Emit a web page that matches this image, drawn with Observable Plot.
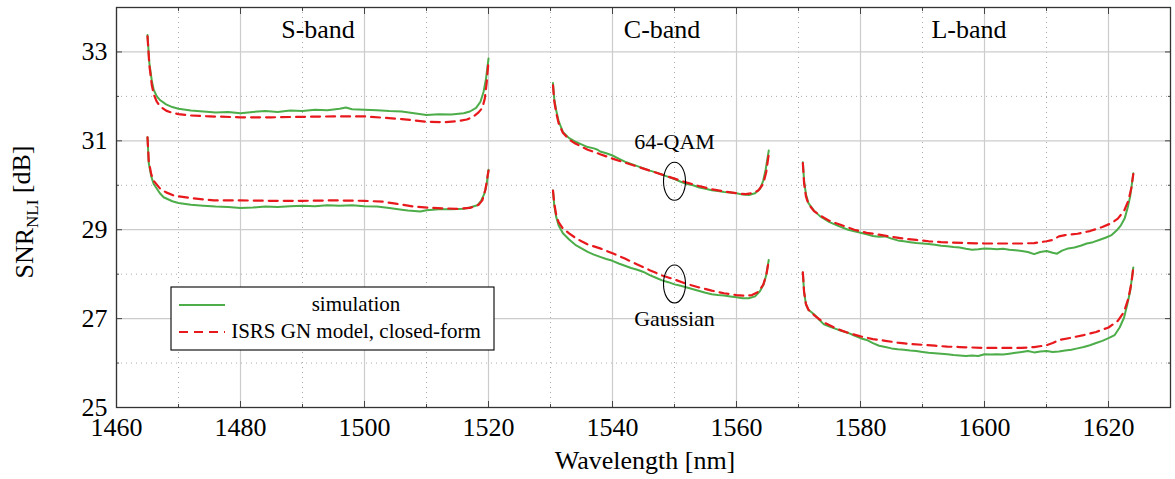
<!DOCTYPE html>
<html><head><meta charset="utf-8">
<script src="https://cdn.jsdelivr.net/npm/d3@7"></script>
<script src="https://cdn.jsdelivr.net/npm/@observablehq/plot@0.6"></script>
<style>
body{margin:0;background:#fff;}
#chart{position:relative;width:1175px;height:479px;}
#chart svg, #chart svg text{font-family:"Liberation Serif","Times New Roman",serif !important;}
</style></head><body><div id="chart"></div>
<script>
// ---- tick values & labels ----
const xMajorTicks = [1460,1480,1500,1520,1540,1560,1580,1600,1620];
const xMinorTicks = [1470,1490,1510,1530,1550,1570,1590,1610];
const yMajorTicks = [25,27,29,31,33];
const yMinorTicks = [26,28,30,32];
const bandNames = ["S-band","C-band","L-band"];
const bandCenters = [1492.5,1548,1597.5];
const bandLabelY = 33.5;
const formatNames = ["64-QAM","Gaussian"];
const formatLabelY = [30.98, 26.99];
const formatLabelX = 1550;
const ellipseY = [30.09, 27.78];
const legendLabels = ["simulation","ISRS GN model, closed-form"];

// ---- series: [wavelength nm, SNR_NLI dB] ----
const sQamSim = [[1465,33.38],[1465.3,32.75],[1465.7,32.35],[1466,32.15],[1466.5,32.0],[1467,31.92],[1468,31.82],[1469,31.76],[1470,31.72],[1472,31.68],[1474,31.66],[1476,31.64],[1478,31.65],[1480,31.62],[1482,31.65],[1484,31.67],[1486,31.65],[1488,31.68],[1490,31.67],[1492,31.7],[1494,31.69],[1496,31.72],[1497,31.75],[1498,31.71],[1500,31.7],[1502,31.69],[1504,31.67],[1506,31.66],[1508,31.62],[1510,31.58],[1512,31.6],[1514,31.59],[1516,31.62],[1517,31.66],[1518,31.74],[1518.7,31.88],[1519.2,32.1],[1519.6,32.4],[1520,32.85]];
const sQamModel = [[1465,33.35],[1465.3,32.7],[1465.7,32.25],[1466,32.05],[1466.5,31.88],[1467,31.78],[1468,31.68],[1469,31.63],[1470,31.6],[1472,31.57],[1475,31.55],[1480,31.53],[1485,31.53],[1490,31.54],[1495,31.55],[1500,31.55],[1503,31.52],[1506,31.49],[1508,31.46],[1510,31.43],[1513,31.42],[1515,31.44],[1516.5,31.48],[1517.5,31.54],[1518.4,31.64],[1519,31.74],[1519.4,31.95],[1519.7,32.3],[1520,32.8]];
const sGaussSim = [[1465,31.08],[1465.2,30.5],[1465.6,30.2],[1466,30.03],[1467,29.82],[1467.6,29.73],[1469,29.64],[1470,29.6],[1472,29.56],[1474,29.54],[1476,29.52],[1478,29.51],[1480,29.49],[1482,29.5],[1484,29.52],[1486,29.51],[1488,29.53],[1490,29.54],[1492,29.53],[1494,29.55],[1496,29.54],[1498,29.55],[1500,29.53],[1502,29.52],[1504,29.49],[1506,29.45],[1507,29.43],[1509,29.41],[1510,29.44],[1512,29.46],[1514,29.46],[1516,29.47],[1517,29.5],[1518.2,29.55],[1518.8,29.65],[1519.3,29.8],[1519.7,30.02],[1520,30.35]];
const sGaussModel = [[1465,31.08],[1465.2,30.55],[1465.6,30.25],[1466,30.1],[1467,29.93],[1468,29.84],[1469.2,29.77],[1472,29.71],[1475.7,29.66],[1480,29.66],[1485,29.65],[1490,29.65],[1495,29.66],[1500,29.65],[1503,29.63],[1505.3,29.58],[1508,29.52],[1511,29.49],[1513,29.48],[1515,29.47],[1517,29.49],[1518.4,29.56],[1519,29.66],[1519.5,29.9],[1520,30.33]];
const cQamSim = [[1530.4,32.3],[1530.6,31.95],[1530.9,31.7],[1531.3,31.45],[1532,31.2],[1533,31.06],[1534,30.98],[1535,30.92],[1536,30.86],[1537,30.83],[1537.6,30.8],[1538,30.76],[1539,30.72],[1540,30.67],[1541,30.6],[1542,30.53],[1543,30.48],[1544,30.43],[1545,30.38],[1546,30.33],[1547,30.29],[1548,30.24],[1549,30.19],[1550,30.14],[1551,30.08],[1552,30.03],[1553,30.0],[1554,29.95],[1555,29.92],[1556,29.89],[1557,29.87],[1558,29.85],[1559,29.84],[1560,29.82],[1561,29.79],[1562,29.78],[1563,29.82],[1563.8,29.92],[1564.3,30.1],[1564.7,30.35],[1565.2,30.78]];
const cQamModel = [[1530.4,32.25],[1530.6,31.9],[1530.9,31.65],[1531.3,31.4],[1532,31.18],[1533,31.03],[1534,30.94],[1535,30.87],[1536,30.8],[1538,30.7],[1540,30.6],[1542,30.51],[1544,30.42],[1546,30.33],[1548,30.24],[1550,30.15],[1552,30.06],[1554,29.98],[1556,29.91],[1558,29.86],[1560,29.82],[1561.5,29.8],[1562.5,29.82],[1563.5,29.88],[1564.3,30.03],[1564.8,30.3],[1565.2,30.7]];
const cGaussSim = [[1530.4,29.88],[1530.6,29.55],[1530.9,29.3],[1531.3,29.1],[1532,28.92],[1533,28.78],[1534,28.66],[1535,28.58],[1536,28.5],[1537,28.44],[1538,28.39],[1539,28.34],[1540,28.3],[1541,28.24],[1542,28.19],[1543,28.14],[1544,28.1],[1545,28.05],[1546,27.98],[1547,27.92],[1548,27.86],[1549,27.82],[1550,27.77],[1551,27.74],[1552,27.7],[1553,27.66],[1554,27.62],[1555,27.58],[1556,27.55],[1557,27.53],[1558,27.52],[1559,27.5],[1560,27.48],[1561,27.46],[1562,27.46],[1563,27.5],[1563.8,27.62],[1564.4,27.78],[1564.8,27.98],[1565.2,28.32]];
const cGaussModel = [[1530.4,29.88],[1530.6,29.6],[1530.9,29.35],[1531.3,29.17],[1532,29.03],[1533,28.92],[1534,28.82],[1535,28.74],[1536,28.67],[1538,28.58],[1540,28.47],[1542,28.35],[1544,28.22],[1546,28.09],[1548,27.97],[1550,27.88],[1552,27.78],[1554,27.7],[1556,27.63],[1558,27.57],[1560,27.53],[1561.5,27.51],[1562.5,27.53],[1563.5,27.6],[1564.3,27.76],[1564.8,27.98],[1565.2,28.3]];
const lQamSim = [[1570.7,30.52],[1570.9,30.1],[1571.2,29.8],[1571.6,29.6],[1572.5,29.43],[1573.5,29.3],[1575,29.17],[1576.5,29.08],[1578,29.0],[1579.5,28.95],[1581,28.9],[1582,28.86],[1583,28.84],[1584,28.85],[1585,28.8],[1586,28.76],[1587,28.74],[1588,28.72],[1589,28.7],[1590,28.69],[1591,28.68],[1592,28.66],[1593,28.64],[1594,28.63],[1595,28.61],[1596,28.6],[1597,28.57],[1598,28.55],[1599,28.56],[1600,28.58],[1601,28.57],[1602,28.56],[1603,28.57],[1604,28.55],[1605,28.54],[1606,28.52],[1607,28.5],[1608,28.45],[1609,28.5],[1610,28.52],[1611,28.48],[1611.7,28.46],[1612.5,28.53],[1613.5,28.58],[1614.5,28.6],[1615.5,28.64],[1616.5,28.69],[1617.5,28.72],[1618.5,28.77],[1619.5,28.82],[1620.5,28.88],[1621.3,28.98],[1622,29.1],[1622.6,29.25],[1623.1,29.5],[1623.5,29.75],[1624,30.27]];
const lQamModel = [[1570.7,30.5],[1570.9,30.05],[1571.2,29.75],[1571.6,29.58],[1572.5,29.42],[1573.5,29.32],[1575,29.2],[1577,29.1],[1579,29.0],[1581,28.93],[1583,28.89],[1585,28.84],[1587,28.8],[1589,28.77],[1591,28.74],[1593,28.72],[1595,28.71],[1597,28.7],[1600,28.69],[1603,28.69],[1606,28.69],[1608,28.7],[1610,28.74],[1611,28.77],[1612,28.85],[1613,28.88],[1615,28.91],[1617,28.97],[1619,29.06],[1620.5,29.15],[1621.5,29.25],[1622.5,29.42],[1623.2,29.65],[1623.7,29.95],[1624,30.25]];
const lGaussSim = [[1570.7,28.04],[1570.9,27.6],[1571.2,27.32],[1571.6,27.2],[1572.5,27.1],[1573.3,26.98],[1574.1,26.87],[1575,26.82],[1576,26.77],[1577,26.72],[1578,26.68],[1579,26.62],[1580,26.56],[1581,26.52],[1582,26.45],[1583,26.39],[1584,26.36],[1585,26.33],[1586,26.31],[1587,26.3],[1588,26.28],[1589,26.27],[1590,26.25],[1591,26.23],[1592,26.22],[1593,26.21],[1594,26.2],[1595,26.18],[1596,26.17],[1597,26.16],[1598,26.17],[1599,26.16],[1600,26.2],[1601,26.19],[1602,26.2],[1603,26.19],[1604,26.21],[1605,26.23],[1606,26.25],[1607,26.27],[1608,26.24],[1609,26.26],[1610,26.27],[1611,26.25],[1612,26.26],[1613,26.28],[1614,26.3],[1615,26.33],[1616,26.36],[1617,26.4],[1618,26.45],[1619,26.5],[1620,26.56],[1621,26.63],[1621.8,26.8],[1622.5,27.02],[1623,27.3],[1623.5,27.62],[1624,28.15]];
const lGaussModel = [[1570.7,28.04],[1570.9,27.6],[1571.2,27.33],[1571.6,27.2],[1572.5,27.08],[1574,26.92],[1576,26.78],[1578,26.68],[1580,26.6],[1582,26.54],[1584,26.5],[1586,26.46],[1588,26.43],[1590,26.41],[1592,26.39],[1594,26.37],[1596,26.36],[1598,26.35],[1600,26.34],[1603,26.34],[1606,26.34],[1608,26.36],[1610,26.4],[1611,26.45],[1612,26.52],[1614,26.57],[1616,26.63],[1618,26.7],[1620,26.8],[1621.5,26.95],[1622.5,27.15],[1623.2,27.45],[1623.7,27.8],[1624,28.15]];

// ---- styling ----
const simColor = "#4cad49";
const modelColor = "#e8191c";
const font = "Liberation Serif, Times New Roman, serif";

const curves = [
  {id:"S-QAM", type:"sim", pts:sQamSim},{id:"S-QAM", type:"model", pts:sQamModel},
  {id:"S-G", type:"sim", pts:sGaussSim},{id:"S-G", type:"model", pts:sGaussModel},
  {id:"C-QAM", type:"sim", pts:cQamSim},{id:"C-QAM", type:"model", pts:cQamModel},
  {id:"C-G", type:"sim", pts:cGaussSim},{id:"C-G", type:"model", pts:cGaussModel},
  {id:"L-QAM", type:"sim", pts:lQamSim},{id:"L-QAM", type:"model", pts:lQamModel},
  {id:"L-G", type:"sim", pts:lGaussSim},{id:"L-G", type:"model", pts:lGaussModel}
];
const rows = curves.flatMap(c => c.pts.map(([x, y]) => ({id: c.id, type: c.type, x, y})));
const simRows = rows.filter(d => d.type === "sim");
const modelRows = rows.filter(d => d.type === "model");
const bands = bandNames.map((name, i) => ({name, x: bandCenters[i], y: bandLabelY}));
const formats = formatNames.map((name, i) => ({name, x: formatLabelX, y: formatLabelY[i]}));
const ellipses = ellipseY.map(y => ({x: formatLabelX, y}));

const ellipseSymbol = {
  draw(ctx) {
    const rx = 11, ry = 19, k = 0.5523;
    ctx.moveTo(rx, 0);
    ctx.bezierCurveTo(rx, ry * k, rx * k, ry, 0, ry);
    ctx.bezierCurveTo(-rx * k, ry, -rx, ry * k, -rx, 0);
    ctx.bezierCurveTo(-rx, -ry * k, -rx * k, -ry, 0, -ry);
    ctx.bezierCurveTo(rx * k, -ry, rx, -ry * k, rx, 0);
    ctx.closePath();
  }
};

const tickColor = "#444";
const plot = Plot.plot({
  width: 1175, height: 479,
  marginLeft: 116, marginRight: 5, marginTop: 7, marginBottom: 72,
  x: {domain: [1460, 1630], label: null},
  y: {domain: [25, 34], label: null},
  style: {fontFamily: font, fontSize: "26px", color: "#000", background: "#fff"},
  marks: [
    Plot.gridX(xMinorTicks, {stroke: "#aaa", strokeOpacity: 1, strokeDasharray: "1,4"}),
    Plot.gridY(yMinorTicks, {stroke: "#aaa", strokeOpacity: 1, strokeDasharray: "1,4"}),
    Plot.gridX(xMajorTicks, {stroke: "#cccccc", strokeOpacity: 1, strokeWidth: 1.2}),
    Plot.gridY(yMajorTicks, {stroke: "#cccccc", strokeOpacity: 1, strokeWidth: 1.2}),
    Plot.axisX(xMajorTicks, {anchor: "bottom", tickSize: -6, tickFormat: () => "", stroke: tickColor}),
    Plot.axisX(xMajorTicks, {anchor: "top", tickSize: -6, tickFormat: () => "", stroke: tickColor}),
    Plot.axisX(xMinorTicks, {anchor: "bottom", tickSize: -3, tickFormat: () => "", stroke: tickColor}),
    Plot.axisX(xMinorTicks, {anchor: "top", tickSize: -3, tickFormat: () => "", stroke: tickColor}),
    Plot.axisY(yMajorTicks, {anchor: "left", tickSize: -6, tickFormat: () => "", stroke: tickColor}),
    Plot.axisY(yMajorTicks, {anchor: "right", tickSize: -6, tickFormat: () => "", stroke: tickColor}),
    Plot.axisY(yMinorTicks, {anchor: "left", tickSize: -3, tickFormat: () => "", stroke: tickColor}),
    Plot.axisY(yMinorTicks, {anchor: "right", tickSize: -3, tickFormat: () => "", stroke: tickColor}),
    Plot.axisX(xMajorTicks, {anchor: "bottom", tickSize: 0, tickPadding: 10, fontSize: 26, fill: "#000", tickFormat: d => String(d)}),
    Plot.axisY(yMajorTicks, {anchor: "left", tickSize: 0, tickPadding: 9, fontSize: 26, fill: "#000", tickFormat: d => String(d)}),
    Plot.line(simRows, {x: "x", y: "y", z: "id", stroke: simColor, strokeWidth: 2, curve: "linear"}),
    Plot.line(modelRows, {x: "x", y: "y", z: "id", stroke: modelColor, strokeWidth: 2.2, strokeDasharray: "9,6", curve: "linear"}),
    Plot.dot(ellipses, {x: "x", y: "y", symbol: ellipseSymbol, fill: "none", stroke: "#000", strokeWidth: 1.1}),
    Plot.text(bands, {x: "x", y: "y", text: "name", fontSize: 26, fill: "#000"}),
    Plot.text(formats, {x: "x", y: "y", text: "name", fontSize: 22, fill: "#000"}),
    Plot.frame({stroke: "#333", strokeWidth: 1.3})
  ]
});
document.getElementById("chart").appendChild(plot);

// axis titles and legend
const svg = d3.select(plot);
svg.append("text").attr("x", 645).attr("y", 469).attr("text-anchor", "middle")
  .attr("font-size", 26).attr("fill", "#000").text("Wavelength [nm]");
const yl = svg.append("text").attr("transform", "translate(33,212) rotate(-90)").attr("text-anchor", "middle")
  .attr("font-size", 26).attr("fill", "#000");
yl.append("tspan").text("SNR");
yl.append("tspan").attr("font-size", 17).attr("dy", "0.32em").text("NLI");
yl.append("tspan").attr("dy", "-0.32em").text(" [dB]");

const lg = svg.append("g");
lg.append("rect").attr("x", 171).attr("y", 287).attr("width", 323).attr("height", 63)
  .attr("fill", "#fff").attr("stroke", "#000").attr("stroke-width", 1.1);
lg.append("line").attr("x1", 179).attr("x2", 225).attr("y1", 305).attr("y2", 305)
  .attr("stroke", simColor).attr("stroke-width", 2);
lg.append("line").attr("x1", 179).attr("x2", 225).attr("y1", 332).attr("y2", 332)
  .attr("stroke", modelColor).attr("stroke-width", 2.2).attr("stroke-dasharray", "9,6");
legendLabels.forEach((t, i) => {
  lg.append("text").attr("x", 356).attr("y", 311 + 27 * i).attr("text-anchor", "middle")
    .attr("font-size", 21).attr("fill", "#000").text(t);
});
</script></body></html>
